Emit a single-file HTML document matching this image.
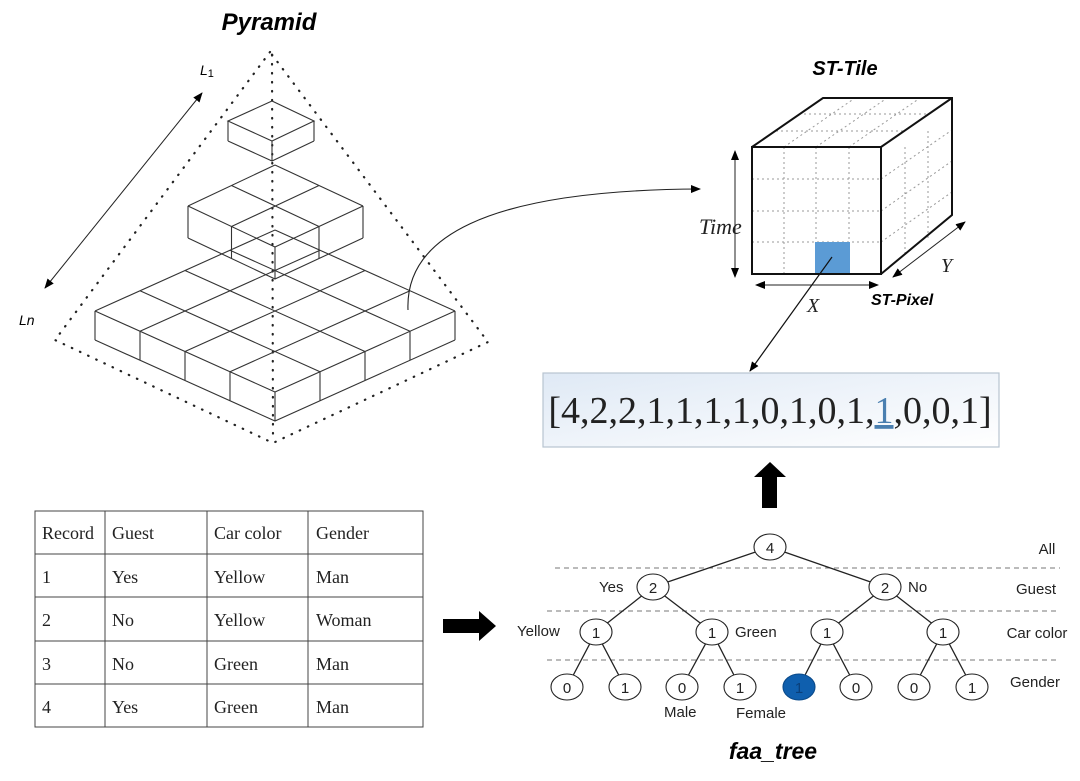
<!DOCTYPE html>
<html><head><meta charset="utf-8"><style>
html,body{margin:0;padding:0;background:#fff;width:1080px;height:781px;overflow:hidden}
svg{display:block}
.s{font-family:"Liberation Sans",sans-serif}
.r{font-family:"Liberation Serif",serif}
</style></head><body>
<svg width="1080" height="781" viewBox="0 0 1080 781" xmlns="http://www.w3.org/2000/svg">
<defs>
<marker id="ah" markerWidth="10" markerHeight="8" refX="9" refY="4" orient="auto" markerUnits="userSpaceOnUse"><path d="M0,0 L10,4 L0,8 z" fill="#000"/></marker>
<marker id="as" markerWidth="10" markerHeight="8" refX="1" refY="4" orient="auto" markerUnits="userSpaceOnUse"><path d="M10,0 L0,4 L10,8 z" fill="#000"/></marker>
<linearGradient id="vg" x1="0" y1="0" x2="1" y2="1"><stop offset="0" stop-color="#dfe9f5"/><stop offset="1" stop-color="#ffffff"/></linearGradient>
</defs>

<text x="269" y="30" text-anchor="middle" class="s" font-size="24" font-weight="bold" font-style="italic">Pyramid</text>
<g fill="none" stroke="#222" stroke-width="2.2" stroke-linecap="round" stroke-dasharray="0.5 8.5">
<path d="M270,52 L55,340 L273,443 L488,342 Z"/>
<path d="M272,55 L273,440"/>
</g>
<line x1="202" y1="93" x2="45" y2="288" stroke="#222" stroke-width="1" marker-end="url(#ah)" marker-start="url(#as)"/>
<text x="200" y="75" class="s" font-size="14" font-style="italic">L<tspan font-size="11" font-style="normal" dy="2">1</tspan></text>
<text x="19" y="325" class="s" font-size="14" font-style="italic">Ln</text>

<g fill="none" stroke="#333" stroke-width="1.1">
<path d="M275,230 L95,311 M320,250.25 L140,331.25 M365,270.5 L185,351.5 M410,290.75 L230,371.75 M455,311 L275,392"/>
<path d="M275,230 L455,311 M230,250.25 L410,331.25 M185,270.5 L365,351.5 M140,290.75 L320,371.75 M95,311 L275,392"/>
<path d="M95,340 L275,421 L455,340"/>
<path d="M95,311 v29 M140,331.25 v29 M185,351.5 v29 M230,371.75 v29 M275,392 v29 M320,371.75 v29 M365,351.5 v29 M410,331.25 v29 M455,311 v29"/>
<path d="M275,165 L188,206 M319,185.5 L231.5,226.5 M363,206 L275,247"/>
<path d="M275,165 L363,206 M231.5,185.5 L319,226.5 M188,206 L275,247"/>
<path d="M188,238 L275,279 L363,238"/>
<path d="M188,206 v32 M231.5,226.5 v32 M275,247 v32 M319,226.5 v32 M363,206 v32"/>
<path d="M272,101 L228,121 L272,141 L314,121 Z"/>
<path d="M228,141 L272,161 L314,141 M228,121 v20 M272,141 v20 M314,121 v20"/>
</g>

<path d="M408,310 C405,240 480,190 700,189" fill="none" stroke="#222" stroke-width="1.1" marker-end="url(#ah)"/>

<text x="845" y="75" text-anchor="middle" class="s" font-size="20" font-weight="bold" font-style="italic">ST-Tile</text>
<g fill="none" stroke="#999" stroke-width="1" stroke-dasharray="2 3">
<path d="M784,147 V274 M816,147 V274 M849,147 V274 M752,179 H881 M752,211 H881 M752,242 H881"/>
<path d="M905,147 V257 M928,131 V241 M881,147 L952,98 M881,179 L952,130 M881,211 L952,161 M881,242 L952,192"/>
<path d="M776,131 L905,131 M799,114 L928,114 M784,147 L855,98 M816,147 L887,98 M849,147 L920,98"/>
</g>
<rect x="815" y="242" width="35" height="32" fill="#5b9bd5"/>
<g fill="none" stroke="#111" stroke-width="2">
<rect x="752" y="147" width="129" height="127"/>
<path d="M752,147 L823,98 L952,98 L952,215 L881,274 M881,147 L952,98"/>
</g>
<line x1="735" y1="151" x2="735" y2="277" stroke="#222" stroke-width="1" marker-end="url(#ah)" marker-start="url(#as)"/>
<line x1="756" y1="285" x2="878" y2="285" stroke="#222" stroke-width="1" marker-end="url(#ah)" marker-start="url(#as)"/>
<line x1="893" y1="277" x2="965" y2="222" stroke="#222" stroke-width="1" marker-end="url(#ah)" marker-start="url(#as)"/>
<text x="699" y="234" class="r" font-size="22" font-style="italic" fill="#222">Time</text>
<text x="807" y="312" class="r" font-size="20" font-style="italic" fill="#222">X</text>
<text x="941" y="272" class="r" font-size="20" font-style="italic" fill="#222">Y</text>
<text x="871" y="305" class="s" font-size="16" font-weight="bold" font-style="italic">ST-Pixel</text>
<line x1="832" y1="257" x2="750" y2="371" stroke="#111" stroke-width="1.2" marker-end="url(#ah)"/>

<rect x="543" y="373" width="456" height="74" fill="url(#vg)" stroke="#b8c4d0" stroke-width="1.2"/>
<text x="770" y="423" text-anchor="middle" class="r" font-size="38" fill="#222">[4,2,2,1,1,1,1,0,1,0,1,<tspan fill="#4a7fb0" text-decoration="underline">1</tspan>,0,0,1]</text>

<path d="M770,462 L786,477 L777,477 L777,508 L762,508 L762,477 L754,477 Z" fill="#000"/>
<path d="M443,619 L479,619 L479,611 L496,626 L479,641 L479,633 L443,633 Z" fill="#000"/>

<g fill="none" stroke="#444" stroke-width="1">
<rect x="35" y="511" width="388" height="216"/>
<path d="M105,511 V727 M207,511 V727 M308,511 V727 M35,554 H423 M35,597 H423 M35,641 H423 M35,684 H423"/>
</g>
<g class="r" font-size="18" fill="#222">
<text x="42" y="539">Record</text><text x="112" y="539">Guest</text><text x="214" y="539">Car color</text><text x="316" y="539">Gender</text>
<text x="42" y="583">1</text><text x="112" y="583">Yes</text><text x="214" y="583">Yellow</text><text x="316" y="583">Man</text>
<text x="42" y="626">2</text><text x="112" y="626">No</text><text x="214" y="626">Yellow</text><text x="316" y="626">Woman</text>
<text x="42" y="670">3</text><text x="112" y="670">No</text><text x="214" y="670">Green</text><text x="316" y="670">Man</text>
<text x="42" y="713">4</text><text x="112" y="713">Yes</text><text x="214" y="713">Green</text><text x="316" y="713">Man</text>
</g>

<g stroke="#777" stroke-width="1" stroke-dasharray="5 4">
<line x1="555" y1="568" x2="1060" y2="568"/>
<line x1="547" y1="611" x2="1060" y2="611"/>
<line x1="547" y1="660" x2="1060" y2="660"/>
</g>
<g stroke="#222" stroke-width="1.3">
<path d="M770,547 L653,587 M770,547 L885,587"/>
<path d="M653,587 L596,632 M653,587 L712,632 M885,587 L827,632 M885,587 L943,632"/>
<path d="M596,632 L567,687 M596,632 L625,687 M712,632 L682,687 M712,632 L740,687 M827,632 L799,687 M827,632 L856,687 M943,632 L914,687 M943,632 L972,687"/>
</g>
<g fill="#fff" stroke="#222" stroke-width="1.1">
<ellipse cx="770" cy="547" rx="16" ry="13"/>
<ellipse cx="653" cy="587" rx="16" ry="13"/><ellipse cx="885" cy="587" rx="16" ry="13"/>
<ellipse cx="596" cy="632" rx="16" ry="13"/><ellipse cx="712" cy="632" rx="16" ry="13"/><ellipse cx="827" cy="632" rx="16" ry="13"/><ellipse cx="943" cy="632" rx="16" ry="13"/>
<ellipse cx="567" cy="687" rx="16" ry="13"/><ellipse cx="625" cy="687" rx="16" ry="13"/><ellipse cx="682" cy="687" rx="16" ry="13"/><ellipse cx="740" cy="687" rx="16" ry="13"/>
<ellipse cx="799" cy="687" rx="16" ry="13" fill="#0f5fae" stroke="#0a4a8a"/><ellipse cx="856" cy="687" rx="16" ry="13"/><ellipse cx="914" cy="687" rx="16" ry="13"/><ellipse cx="972" cy="687" rx="16" ry="13"/>
</g>
<g class="s" font-size="15" text-anchor="middle" fill="#222">
<text x="770" y="553">4</text>
<text x="653" y="593">2</text><text x="885" y="593">2</text>
<text x="596" y="638">1</text><text x="712" y="638">1</text><text x="827" y="638">1</text><text x="943" y="638">1</text>
<text x="567" y="693">0</text><text x="625" y="693">1</text><text x="682" y="693">0</text><text x="740" y="693">1</text>
<text x="799" y="693" fill="#0a3f7a">1</text><text x="856" y="693">0</text><text x="914" y="693">0</text><text x="972" y="693">1</text>
</g>
<g class="s" font-size="15" fill="#222">
<text x="599" y="592">Yes</text><text x="908" y="592">No</text>
<text x="517" y="636">Yellow</text><text x="735" y="637">Green</text>
<text x="664" y="717">Male</text><text x="736" y="718">Female</text>
<text x="1047" y="554" text-anchor="middle">All</text>
<text x="1036" y="594" text-anchor="middle">Guest</text>
<text x="1037" y="638" text-anchor="middle">Car color</text>
<text x="1035" y="687" text-anchor="middle">Gender</text>
</g>
<text x="773" y="759" text-anchor="middle" class="s" font-size="23" font-weight="bold" font-style="italic">faa_tree</text>
</svg>
</body></html>
